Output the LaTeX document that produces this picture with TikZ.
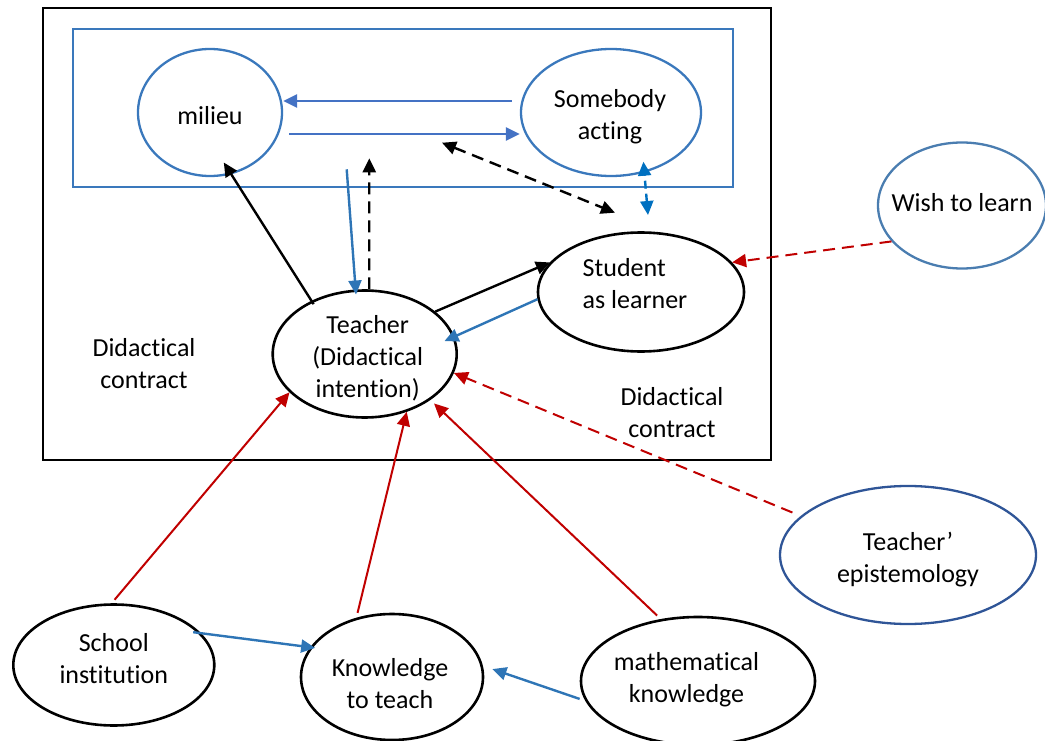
\documentclass[tikz,border=0pt]{standalone}
\usepackage{fontspec}
\setmainfont{Carlito}[Ligatures=NoCommon]
\usetikzlibrary{arrows.meta,shapes.geometric}
\definecolor{cblue}{HTML}{3A78BC}
\definecolor{wblue}{HTML}{4A7DB0}
\definecolor{dblue}{HTML}{2F5597}
\definecolor{ablue}{HTML}{4472C4}
\definecolor{bblue}{HTML}{2E75B6}
\definecolor{lblue}{HTML}{0070C0}
\definecolor{dred}{HTML}{C00000}
\begin{document}
\begin{tikzpicture}[x=1pt,y=-1pt,
  txt/.style={font=\fontsize{26}{32}\selectfont, align=center, inner sep=0pt},
  ell/.style={ellipse, inner sep=0pt, line width=2.6pt},
  bell/.style={ell, draw=black},
  uell/.style={ell, draw=cblue, line width=2.3pt},
  tipend/.style={-{Triangle[length=14pt,width=13pt]}},
  tipboth/.style={{Triangle[length=14pt,width=13pt]}-{Triangle[length=14pt,width=13pt]}},
  blk/.style={draw=black, line width=2.4pt},
  blu/.style={draw=ablue, line width=2.4pt},
  blu2/.style={draw=bblue, line width=2.4pt},
  rd/.style={draw=dred, line width=2pt},
  dsh/.style={dash pattern=on 12pt off 7pt},
]
\useasboundingbox (0,0) rectangle (1045,741);

% frames
\draw[line width=2.6pt] (43,8) rectangle (771,460);
\draw[cblue, line width=2.4pt] (73,29) rectangle (733,187);

% ellipses
\node[uell, minimum width=144pt, minimum height=127pt,
  label={[txt,yshift=-3.5pt]center:milieu}] (milieu) at (210,112.5) {};
\node[uell, minimum width=180pt, minimum height=127pt,
  label={[txt,xshift=-1pt,yshift=-4.5pt]center:Somebody\\acting}] (somebody) at (611,112.5) {};
\node[ell, draw=wblue, line width=2.3pt, minimum width=168pt, minimum height=126pt,
  label={[txt,yshift=3pt]center:Wish to learn}] (wish) at (962,205.5) {};
\node[bell, minimum width=206pt, minimum height=119pt,
  label={[txt,align=left,xshift=-6pt,yshift=8.5pt]center:Student\\as learner}] (student) at (641,292) {};
\node[bell, minimum width=184pt, minimum height=127pt,
  label={[txt,xshift=3pt,yshift=-4pt]center:Teacher\\(Didactical\\intention)}] (teacher) at (364.7,354) {};
\node[ell, draw=dblue, line width=2.3pt, minimum width=256pt, minimum height=138pt,
  label={[txt,yshift=-4.6pt]center:Teacher’\\epistemology}] (epist) at (908,555) {};
\node[bell, minimum width=201pt, minimum height=121pt,
  label={[txt,yshift=6pt]center:School\\institution}] (school) at (113.8,665) {};
\node[bell, minimum width=182pt, minimum height=126pt,
  label={[txt,xshift=-2pt,yshift=-6.5pt]center:Knowledge\\to teach}] (know) at (392,677) {};
\node[bell, minimum width=234pt, minimum height=128pt,
  label={[txt,xshift=-11.5pt,yshift=1pt]center:mathematical\\knowledge}] (math) at (698,681) {};

% free labels
\node[txt] (dc1) at (144,364) {Didactical\\contract};
\node[txt] (dc2) at (672,412.5) {Didactical\\contract};

% free connector ends
\coordinate (a4s) at (346.7,169.3);
\coordinate (a5e) at (369.3,158.3);
\coordinate (a6a) at (442,142.7);
\coordinate (a6b) at (615,212.7);
\coordinate (a7b) at (648,215);

% connectors
\draw[blu, tipend] ([xshift=-8pt,yshift=11.5pt]somebody.west) -- ([yshift=11.5pt]milieu.east);
\draw[blu, tipend] ([xshift=6pt,yshift=-21.5pt]milieu.east) -- ([yshift=-21.5pt]somebody.west);
\draw[blk, tipend, shorten <=-4pt, shorten >=-14pt] (teacher.135) -- (milieu.-71);
\draw[blu2, tipend, shorten >=-5pt] (a4s) -- (teacher.98);
\draw[blk, dsh, tipend] (teacher.86) -- (a5e);
\draw[blk, dsh, tipboth] (a6a) -- (a6b);
\draw[draw=lblue, line width=2.4pt, dash pattern=on 8pt off 5pt, tipboth, shorten >=-11pt] (a7b) -- (somebody.-61);
\draw[blk, tipend] (teacher.31.7) -- (student.162);
\draw[blu2, tipend, shorten >=-11pt] (student.-176) -- (teacher.11.5);
\draw[rd, dsh, tipend] (wish.-153) -- (student.18);
\draw[rd, dsh, tipend, shorten <=9pt] (epist.160.7) -- (teacher.-12);
\draw[rd, tipend, shorten <=4.5pt] (school.92.5) -- (teacher.-153.3);
\draw[rd, tipend, shorten <=5pt] (know.121.5) -- (teacher.-54.3);
\draw[rd, tipend, shorten <=5pt, shorten >=5pt] (math.121.6) -- (teacher.-35.6);
\draw[blu2, tipend, shorten <=-8pt, shorten >=-5pt] (school.20.6) -- (know.160.3);
\draw[blu2, tipend, shorten <=6pt, shorten >=10pt] (math.-170.8) -- (know.7.5);
\end{tikzpicture}
\end{document}
